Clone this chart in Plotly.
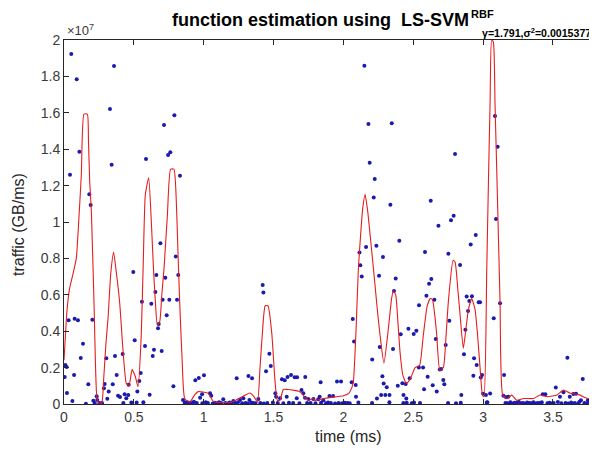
import plotly.graph_objects as go

# ---- observed samples (time in ms, traffic in units of 1e7 GB/ms) ----
sample_time = [
    0.005, 0.010, 0.019, 0.021, 0.033, 0.043, 0.052, 0.060, 0.072, 0.076, 0.091, 0.100,
    0.110, 0.120, 0.136, 0.157, 0.174, 0.181, 0.191, 0.203, 0.210, 0.220, 0.234, 0.238,
    0.253, 0.272, 0.286, 0.291, 0.303, 0.310, 0.320, 0.329, 0.341, 0.349, 0.358, 0.365,
    0.377, 0.387, 0.401, 0.420, 0.425, 0.434, 0.446, 0.460, 0.463, 0.482, 0.496, 0.506,
    0.520, 0.525, 0.539, 0.549, 0.558, 0.568, 0.580, 0.587, 0.613, 0.625, 0.635, 0.644,
    0.654, 0.661, 0.673, 0.678, 0.690, 0.699, 0.706, 0.716, 0.725, 0.735, 0.745, 0.754,
    0.761, 0.783, 0.790, 0.800, 0.809, 0.818, 0.830, 0.852, 0.864, 0.875, 0.893, 0.921,
    0.940, 0.965, 0.974, 0.988, 1.002, 1.045, 1.054,
    0.870, 0.885, 0.905, 0.930, 0.950, 0.990, 1.015, 1.030, 1.065, 1.080, 1.095, 1.110,
    1.125, 1.140, 1.155, 1.170, 1.185, 1.200, 1.212, 1.225, 1.245, 1.260, 1.275, 1.284,
    1.300, 1.315, 1.327, 1.340, 1.355, 1.370, 1.391, 1.405, 1.430, 1.455, 1.495, 1.518,
    1.530, 1.546, 1.570, 1.594, 1.610, 1.640, 1.666, 1.685, 1.725, 1.740, 1.749, 1.765,
    1.785, 1.800, 1.820, 1.840, 1.856, 1.875, 1.890, 1.910, 1.940, 1.965, 1.990, 2.010,
    2.030, 2.045,
    1.236, 1.320, 1.346, 1.422, 1.427, 1.446, 1.470, 1.480, 1.513, 1.560, 1.580, 1.600,
    1.625, 1.651, 1.668, 1.700, 1.713, 1.727, 1.830, 1.837, 1.900, 1.926, 1.954, 1.983,
    2.059, 2.067, 2.076, 2.088, 2.090, 2.115, 2.121, 2.131, 2.150, 2.162, 2.179, 2.188,
    2.206, 2.217, 2.224, 2.236, 2.240, 2.255, 2.260, 2.270, 2.279, 2.283, 2.288, 2.300,
    2.310, 2.330, 2.336, 2.346, 2.355, 2.362, 2.374, 2.389, 2.400, 2.410, 2.422, 2.430,
    2.446, 2.450, 2.465, 2.474, 2.503, 2.522, 2.541, 2.540, 2.570, 2.577, 2.584, 2.594,
    2.603, 2.613, 2.625, 2.629, 2.639, 2.651, 2.661, 2.668, 2.680, 2.690, 2.700, 2.715,
    2.722, 2.732, 2.751, 2.758, 2.770, 2.789, 2.799, 2.835, 2.844, 2.863, 2.873, 2.882,
    2.892, 2.901, 2.911, 2.920, 2.930, 2.935, 2.947, 2.954, 2.968, 2.978, 2.983, 2.992,
    3.000, 3.020, 3.030, 3.050, 3.076, 3.085, 3.092, 3.104, 3.121, 3.145, 3.150, 3.164,
    3.180, 3.427, 3.445, 3.520, 3.550, 3.575, 3.603, 3.620, 3.646, 3.665, 3.700, 3.713,
    3.750, 3.794,
    2.107, 2.205, 2.329, 2.429, 2.453, 2.489, 2.505, 2.548, 2.749, 2.806, 2.840, 3.026,
    3.160, 3.175, 3.195, 3.210, 3.225, 3.240, 3.255, 3.270, 3.285, 3.300, 3.315, 3.330,
    3.345, 3.360, 3.375, 3.390, 3.405, 3.420, 3.460, 3.475, 3.490, 3.505, 3.535, 3.560,
    3.590, 3.610, 3.630, 3.655, 3.680, 3.690, 3.725, 3.740, 3.765, 3.780, 3.805, 3.812,
]
sample_traffic = [
    0.148, 0.214, 0.203, 0.060, 0.460, 1.260, 1.923, 0.016, 0.159, 0.469, 1.784, 0.460,
    1.386, 0.253, 0.331, 0.002, 0.108, 1.152, 1.093, 0.463, 0.018, 0.005, 0.042, 0.022,
    0.005, 0.005, 0.086, 0.110, 0.251, 0.029, 0.068, 1.621, 1.315, 0.108, 1.857, 0.264,
    0.159, 0.046, 0.038, 0.275, 0.005, 0.053, 0.031, 0.049, 0.106, 0.008, 0.725, 0.350,
    0.008, 0.068, 0.126, 0.170, 0.562, 0.010, 0.319, 1.346, 0.051, 0.551, 0.264, 0.298,
    0.615, 0.709, 0.416, 0.440, 0.883, 0.291, 0.573, 1.533, 0.694, 0.487, 1.368, 0.573,
    1.383, 0.097, 1.586, 0.811, 0.573, 0.709, 1.254, 0.022, 0.007, 0.010, 0.007, 0.007,
    0.130, 0.143, 0.035, 0.053, 0.158, 0.059, 0.046,
    0.004, 0.008, 0.003, 0.012, 0.006, 0.004, 0.009, 0.005, 0.003, 0.007, 0.004, 0.010,
    0.005, 0.026, 0.006, 0.003, 0.008, 0.004, 0.016, 0.006, 0.009, 0.022, 0.004, 0.031,
    0.006, 0.003, 0.022, 0.008, 0.005, 0.004, 0.027, 0.006, 0.003, 0.005, 0.008, 0.040,
    0.006, 0.031, 0.004, 0.040, 0.007, 0.005, 0.031, 0.004, 0.035, 0.006, 0.027, 0.005,
    0.027, 0.004, 0.026, 0.007, 0.020, 0.004, 0.008, 0.005, 0.003, 0.006, 0.004, 0.007,
    0.005, 0.004,
    0.141, 0.154, 0.141, 0.654, 0.612, 0.180, 0.276, 0.209, 0.059, 0.136, 0.130, 0.148,
    0.159, 0.147, 0.147, 0.077, 0.059, 0.148, 0.040, 0.119, 0.044, 0.044, 0.123, 0.123,
    0.119, 0.467, 0.344, 0.104, 0.040, 0.832, 0.762, 0.700, 1.859, 0.863, 1.538, 1.326,
    0.245, 1.134, 1.236, 0.870, 0.030, 0.705, 0.313, 0.050, 0.152, 0.808, 0.112, 0.050,
    0.092, 0.050, 1.095, 1.542, 0.302, 0.621, 0.690, 0.100, 0.897, 0.383, 0.114, 0.050,
    0.110, 0.030, 0.414, 0.141, 0.385, 0.403, 0.542, 0.200, 0.200, 0.081, 0.835, 0.595,
    0.150, 0.661, 1.117, 0.687, 0.103, 0.573, 0.357, 0.068, 0.980, 0.190, 0.192, 0.132,
    0.108, 0.324, 0.826, 0.458, 1.009, 1.035, 1.374, 0.764, 0.049, 0.273, 0.408, 0.590,
    0.511, 0.566, 0.877, 0.592, 0.155, 0.251, 0.929, 0.214, 0.559, 0.559, 0.145, 0.159,
    0.056, 0.050, 0.010, 0.058, 0.471, 1.582, 1.016, 1.414, 0.553, 0.046, 0.159, 0.037,
    0.040, 0.053, 0.053, 0.090, 0.040, 0.064, 0.254, 0.040, 0.055, 0.057, 0.020, 0.137,
    0.020, 0.112,
    0.008, 0.006, 0.009, 0.005, 0.007, 0.004, 0.008, 0.006, 0.005, 0.004, 0.007, 0.008,
    0.006, 0.004, 0.009, 0.003, 0.007, 0.005, 0.012, 0.004, 0.006, 0.003, 0.008, 0.005,
    0.004, 0.010, 0.003, 0.006, 0.005, 0.009, 0.004, 0.007, 0.003, 0.006, 0.011, 0.004,
    0.006, 0.003, 0.008, 0.005, 0.004, 0.012, 0.006, 0.003, 0.007, 0.005, 0.004, 0.009,
]

# ---- LS-SVM estimate (red curve) ----
fit_time = [
    0.000, 0.005, 0.020, 0.040, 0.060, 0.088, 0.105, 0.124, 0.143, 0.167, 0.175, 0.184,
    0.196, 0.215, 0.236, 0.250, 0.270, 0.285, 0.300, 0.315, 0.335, 0.355, 0.375, 0.398,
    0.420, 0.446, 0.465, 0.487, 0.500, 0.511, 0.530, 0.553, 0.568, 0.582, 0.606, 0.625,
    0.640, 0.654, 0.668, 0.685, 0.700, 0.716, 0.740, 0.763, 0.787, 0.804, 0.815, 0.828,
    0.845, 0.864, 0.900, 0.935, 0.960, 1.000, 1.030, 1.070, 1.100, 1.200, 1.250, 1.300,
    1.330, 1.360, 1.385, 1.403, 1.420, 1.440, 1.460, 1.487, 1.510, 1.527, 1.545, 1.570,
    1.600, 1.650, 1.680, 1.700, 1.720, 1.750, 1.780, 1.800, 1.830, 1.860, 1.900, 1.950,
    2.000, 2.040, 2.060, 2.071, 2.090, 2.107, 2.125, 2.138, 2.155, 2.174, 2.200, 2.226,
    2.245, 2.262, 2.290, 2.322, 2.345, 2.357, 2.374, 2.390, 2.405, 2.425, 2.450, 2.477,
    2.513, 2.545, 2.572, 2.600, 2.622, 2.637, 2.655, 2.668, 2.690, 2.715, 2.735, 2.751,
    2.785, 2.799, 2.820, 2.835, 2.858, 2.875, 2.894, 2.918, 2.942, 2.960, 2.978, 2.995,
    3.006, 3.026, 3.040, 3.050, 3.061, 3.073, 3.085, 3.097, 3.110, 3.121, 3.140, 3.170,
    3.205, 3.240, 3.290, 3.360, 3.407, 3.460, 3.530, 3.575, 3.620, 3.690, 3.750, 3.815,
]
fit_traffic = [
    0.240, 0.306, 0.500, 0.635, 0.700, 0.800, 1.000, 1.258, 1.593, 1.593, 1.450, 1.221,
    1.057, 0.550, 0.030, 0.005, 0.005, 0.150, 0.330, 0.470, 0.720, 0.833, 0.720, 0.562,
    0.320, 0.113, 0.100, 0.190, 0.170, 0.150, 0.095, 0.379, 0.800, 1.148, 1.243, 1.002,
    0.750, 0.562, 0.434, 0.452, 0.600, 0.745, 1.038, 1.290, 1.290, 1.110, 0.850, 0.562,
    0.250, 0.030, 0.010, 0.050, 0.068, 0.065, 0.060, 0.013, 0.010, 0.010, 0.030, 0.050,
    0.060, 0.040, 0.010, 0.200, 0.390, 0.540, 0.540, 0.390, 0.130, 0.020, 0.020, 0.080,
    0.080, 0.075, 0.070, 0.060, 0.040, 0.020, 0.030, 0.020, 0.025, 0.030, 0.035, 0.040,
    0.045, 0.060, 0.090, 0.120, 0.400, 0.745, 0.950, 1.075, 1.152, 1.057, 0.860, 0.654,
    0.500, 0.379, 0.224, 0.416, 0.580, 0.621, 0.600, 0.450, 0.287, 0.160, 0.114, 0.135,
    0.200, 0.212, 0.379, 0.540, 0.580, 0.574, 0.480, 0.379, 0.185, 0.200, 0.380, 0.562,
    0.790, 0.780, 0.620, 0.489, 0.306, 0.400, 0.516, 0.580, 0.520, 0.380, 0.200, 0.050,
    0.040, 0.745, 1.300, 1.660, 2.000, 1.990, 1.650, 1.295, 0.900, 0.562, 0.049, 0.030,
    0.049, 0.020, 0.030, 0.030, 0.049, 0.040, 0.050, 0.077, 0.060, 0.050, 0.030, 0.040,
]

x_ticks = [0, 0.5, 1, 1.5, 2, 2.5, 3, 3.5]
y_ticks = [0, 0.2, 0.4, 0.6, 0.8, 1, 1.2, 1.4, 1.6, 1.8, 2]
y_ticktext = ["0", "0.2", "0.4", "0.6", "0.8", "1", "1.2", "1.4", "1.6", "1.8", "2"]

# the page body adds an 8px offset; figure is sized so the plot box lands where the reference has it
OFF = 8
W, H = 597 - OFF, 451 - OFF
PLOT_L, PLOT_R, PLOT_T, PLOT_B = 64, 597, 40, 404  # page pixels
L, R, T, B = PLOT_L - OFF, 0, PLOT_T - OFF, (H + OFF) - PLOT_B
PW, PH = PLOT_R - PLOT_L, PLOT_B - PLOT_T


def px(xp):
    return (xp - PLOT_L) / PW


def py(yp):
    return (PLOT_B - yp) / PH


fig = go.Figure()
fig.add_trace(go.Scatter(
    x=sample_time, y=sample_traffic, mode="markers",
    marker=dict(color="#1a1ab0", size=4, symbol="circle", line=dict(width=0)),
    showlegend=False, cliponaxis=True,
))
fig.add_trace(go.Scatter(
    x=fit_time, y=fit_traffic, mode="lines",
    line=dict(color="#e81c1c", width=1.1, shape="spline", smoothing=0.5),
    showlegend=False,
))

axis_col = "#262626"
fam = "Liberation Sans, Arial, sans-serif"
tick_font = dict(family=fam, size=14, color="#3a3a3a")

fig.update_layout(
    width=W, height=H,
    margin=dict(l=L, r=R, t=T, b=B),
    paper_bgcolor="white", plot_bgcolor="white",
    xaxis=dict(
        range=[0, 3.815], tickvals=x_ticks, ticks="inside", ticklen=5, tickcolor=axis_col,
        showline=True, linecolor=axis_col, linewidth=1, mirror="ticks",
        showgrid=False, zeroline=False, tickfont=tick_font,
    ),
    yaxis=dict(
        range=[0, 2], tickvals=y_ticks, ticktext=y_ticktext, ticks="inside", ticklen=5,
        tickcolor=axis_col, showline=True, linecolor=axis_col, linewidth=1, mirror=False,
        showgrid=False, zeroline=False, tickfont=tick_font,
    ),
    font=dict(family=fam),
)

annotations = [
    dict(text="<b>function estimation using\u00a0 LS-SVM</b>", x=px(471), y=py(20),
         xanchor="right", yanchor="middle", font=dict(family=fam, size=18, color="black")),
    dict(text="<b>RBF</b>", x=px(469), y=py(14), xanchor="left", yanchor="middle",
         font=dict(family=fam, size=11, color="black")),
    dict(text="<b>γ=1.791,σ<sup>2</sup>=0.0015377</b>", x=px(480), y=py(32),
         xanchor="left", yanchor="middle", font=dict(family=fam, size=10.6, color="black")),
    dict(text="×10<sup>7</sup>", x=px(65), y=py(30), xanchor="left", yanchor="middle",
         font=dict(family=fam, size=13, color="#3a3a3a")),
    dict(text="time (ms)", x=px(348), y=py(437), xanchor="center", yanchor="middle",
         font=dict(family=fam, size=16, color="#262626")),
    dict(text="traffic (GB/ms)", x=px(18), y=py(225), xanchor="center", yanchor="middle",
         textangle=-90, font=dict(family=fam, size=16, color="#262626")),
]
for a in annotations:
    a.update(xref="paper", yref="paper", showarrow=False)
fig.update_layout(annotations=annotations)

fig.write_html("out.html")
